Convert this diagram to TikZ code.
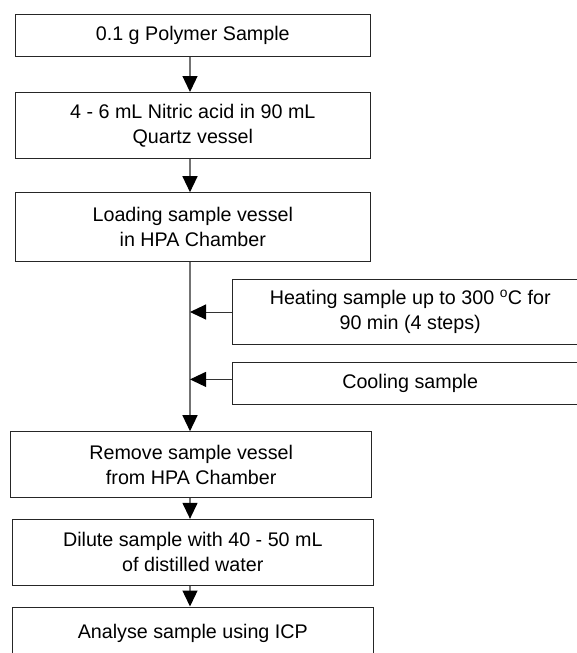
\documentclass[tikz,border=0pt]{standalone}
\usepackage{fontspec}
\setmainfont{Liberation Sans}
\usetikzlibrary{arrows.meta,calc}

\tikzset{
  stepbox/.style={draw=black!85, line width=1pt, fill=white, align=center,
    inner sep=0pt, font=\fontsize{19.7}{25}\selectfont},
  flow/.style={draw=black!55, line width=1.3pt,
    -{Triangle[width=15pt,length=16pt,color=black,fill=black]}},
  feed/.style={draw=black!80, line width=1pt,
    -{Triangle[width=15pt,length=16pt,color=black,fill=black]}},
}

\begin{document}
\begin{tikzpicture}[x=1pt,y=-1pt]
  \useasboundingbox (0,0) rectangle (576,653);

  % main column of steps
  \node[stepbox, minimum width=355.6pt, minimum height=42pt]   (s1) at (192.8,35.7)  {0.1 g Polymer Sample};
  \node[stepbox, minimum width=355.6pt, minimum height=66pt]   (s2) at (192.8,125.5) {4 - 6 mL Nitric acid in 90 mL\\Quartz vessel};
  \node[stepbox, minimum width=355.6pt, minimum height=68.6pt] (s3) at (192.8,227)   {Loading sample vessel\\in HPA Chamber};
  \node[stepbox, minimum width=361pt,   minimum height=65.6pt] (s6) at (191.2,464.5) {Remove sample vessel\\from HPA Chamber};
  \node[stepbox, minimum width=361pt,   minimum height=65.7pt] (s7) at (192.8,552.2) {Dilute sample with 40 - 50 mL\\of distilled water};
  \node[stepbox, minimum width=361pt,   minimum height=52pt]   (s8) at (192.8,633)   {Analyse sample using ICP};

  % side steps feeding the HPA run
  \node[stepbox, minimum width=355.7pt, minimum height=65.4pt] (heat) at (410.2,312)   {Heating sample up to 300 \textsuperscript{o}C for\\90 min (4 steps)};
  \node[stepbox, minimum width=355.7pt, minimum height=42.5pt] (cool) at (410.2,383.7) {Cooling sample};

  % x position of the vertical flow line
  \coordinate (spine) at (190,0);

  \draw[flow] (s1.south -| spine) -- (s2.north -| spine);
  \draw[flow] (s2.south -| spine) -- (s3.north -| spine);
  \draw[flow] (s3.south -| spine) -- (s6.north -| spine);
  \draw[flow] (s6.south -| spine) -- (s7.north -| spine);
  \draw[flow] (s7.south -| spine) -- (s8.north -| spine);

  \draw[feed] (heat.west) -- (heat.west -| spine);
  \coordinate (coolin) at ($(cool.west)+(0,-4.3)$);
  \draw[feed] (coolin) -- (coolin -| spine);
\end{tikzpicture}
\end{document}
